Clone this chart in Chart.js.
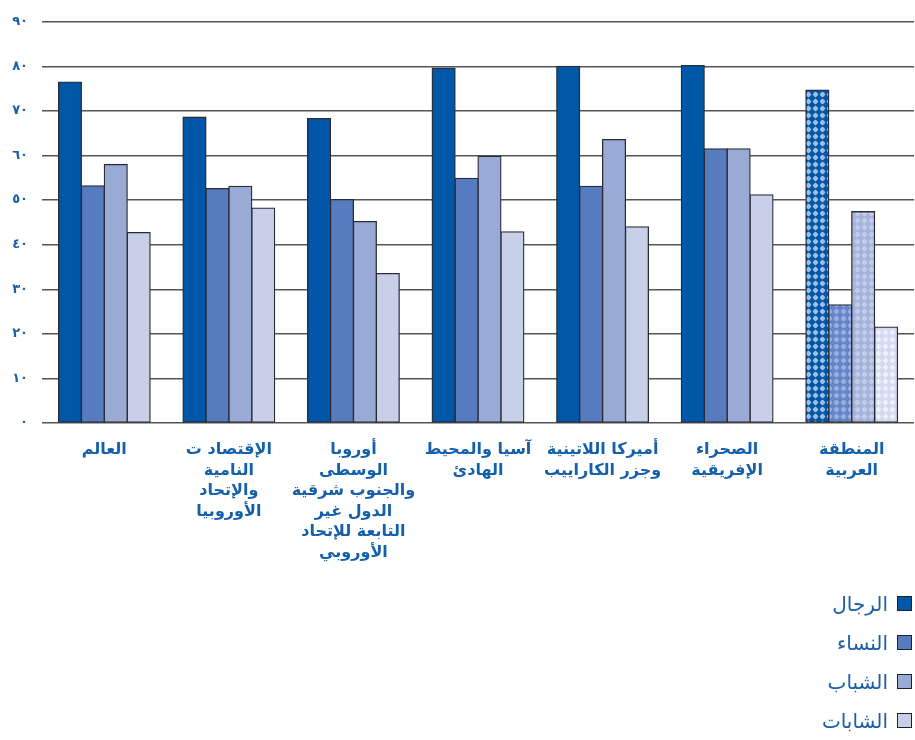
<!DOCTYPE html>
<html lang="ar">
<head>
<meta charset="utf-8">
<script src="https://cdn.jsdelivr.net/npm/chart.js@4/dist/chart.umd.min.js"></script>
<style>
  body { margin: 0; background: #fff; }
  #wrap { position: relative; width: 915px; height: 740px; }
  #box { position: absolute; left: 0; top: 0; width: 915px; height: 590px; }
  #legend { position: absolute; right: 3px; top: 584px; direction: rtl; font-family: 'DejaVu Sans', sans-serif; }
  .item { display: flex; align-items: center; height: 39px; font-size: 20px; color: #1a5fa8; }
  .swatch { width: 13px; height: 13px; border: 1.5px solid #222; margin-left: 9px; }
</style>
</head>
<body>
<div id="wrap">
  <div id="box"><canvas id="myChart"></canvas></div>
  <div id="legend"></div>
</div>
<script>
const regions = [
  ['العالم'],
  ['الإقتصاد ت', 'النامية', 'والإتحاد', 'الأوروبيا'],
  ['أوروبا', 'الوسطى', 'والجنوب شرقية', 'الدول غير', 'التابعة للإتحاد', 'الأوروبي'],
  ['آسيا والمحيط', 'الهادئ'],
  ['أميركا اللاتينية', 'وجزر الكاراييب'],
  ['الصحراء', 'الإفريقية'],
  ['المنطقة', 'العربية']
]
const seriesNames = ['الرجال', 'النساء', 'الشباب', 'الشابات']
const men        = [76.5, 68.6, 68.3, 79.6, 80.0, 80.2, 74.7]
const women      = [53.2, 52.6, 50.1, 54.9, 53.1, 61.5, 26.5]
const youngMen   = [58.0, 53.1, 45.2, 59.8, 63.6, 61.5, 47.4]
const youngWomen = [42.7, 48.2, 33.5, 42.9, 44.0, 51.2, 21.5]
const yTicks = [0, 10, 20, 30, 40, 50, 60, 70, 80, 90]

const colors = ['#0057a8', '#567bbf', '#99aad5', '#c8cfe8']
// dotted fills for the last group (arab region)
const dotted = [['#0057a8', '#9dbfe6'], ['#6685c8', '#9ab1de'], ['#a4b3dc', '#c3cdea'], ['#d3d9f0', '#eef1fa']]

function makePattern(base, dot) {
  const c = document.createElement('canvas')
  c.width = 7; c.height = 7
  const g = c.getContext('2d')
  g.fillStyle = base
  g.fillRect(0, 0, 7, 7)
  g.fillStyle = dot
  // small rounded diamond
  g.beginPath()
  g.moveTo(3.5, 0.6)
  g.lineTo(6.4, 3.5)
  g.lineTo(3.5, 6.4)
  g.lineTo(0.6, 3.5)
  g.closePath()
  g.fill()
  g.beginPath()
  g.arc(3.5, 3.5, 2.2, 0, Math.PI * 2)
  g.fill()
  return g.createPattern(c, 'repeat')
}

const toArabic = n => String(n).replace(/\d/g, d => '٠١٢٣٤٥٦٧٨٩'[d])

const values = [men, women, youngMen, youngWomen]
const datasets = values.map((vals, i) => {
  const pat = makePattern(dotted[i][0], dotted[i][1])
  return {
    label: seriesNames[i],
    data: vals,
    backgroundColor: vals.map((v, j) => j === vals.length - 1 ? pat : colors[i]),
    borderColor: '#2b2b35',
    borderWidth: 1.3,
    borderSkipped: false,
    inflateAmount: 0.6,
    categoryPercentage: 0.736,
    barPercentage: 1
  }
})

const ctx = document.getElementById('myChart').getContext('2d')
const chart = new Chart(ctx, {
  type: 'bar',
  data: { labels: regions, datasets: datasets },
  options: {
    responsive: true,
    maintainAspectRatio: false,
    animation: false,
    layout: { padding: { top: 20, right: 1, left: 0, bottom: 0 } },
    plugins: { legend: { display: false }, tooltip: { enabled: false } },
    scales: {
      x: {
        grid: { display: false },
        border: { display: false },
        ticks: {
          autoSkip: false,
          maxRotation: 0,
          minRotation: 0,
          padding: 9,
          color: '#1560aa',
          font: { family: 'DejaVu Sans', weight: 'bold', size: 16, lineHeight: 1.28 }
        },
        afterFit: scale => { scale.height = 167 }
      },
      y: {
        min: 0,
        max: 90,
        afterBuildTicks: scale => { scale.ticks = yTicks.map(v => ({ value: v })) },
        grid: { color: '#555', lineWidth: 1.5, drawTicks: false },
        border: { display: false },
        ticks: {
          padding: 14,
          color: '#1a5fa8',
          font: { family: 'DejaVu Sans', weight: 'bold', size: 13 },
          callback: v => toArabic(v)
        },
        afterFit: scale => { scale.width = 42 }
      }
    }
  }
})

// legend, one series per row
const legend = document.getElementById('legend')
chart.data.datasets.forEach((ds, i) => {
  const row = document.createElement('div')
  row.className = 'item'
  const sw = document.createElement('span')
  sw.className = 'swatch'
  sw.style.background = colors[i]
  const txt = document.createElement('span')
  txt.textContent = ds.label
  row.appendChild(sw)
  row.appendChild(txt)
  legend.appendChild(row)
})
</script>
</body>
</html>
